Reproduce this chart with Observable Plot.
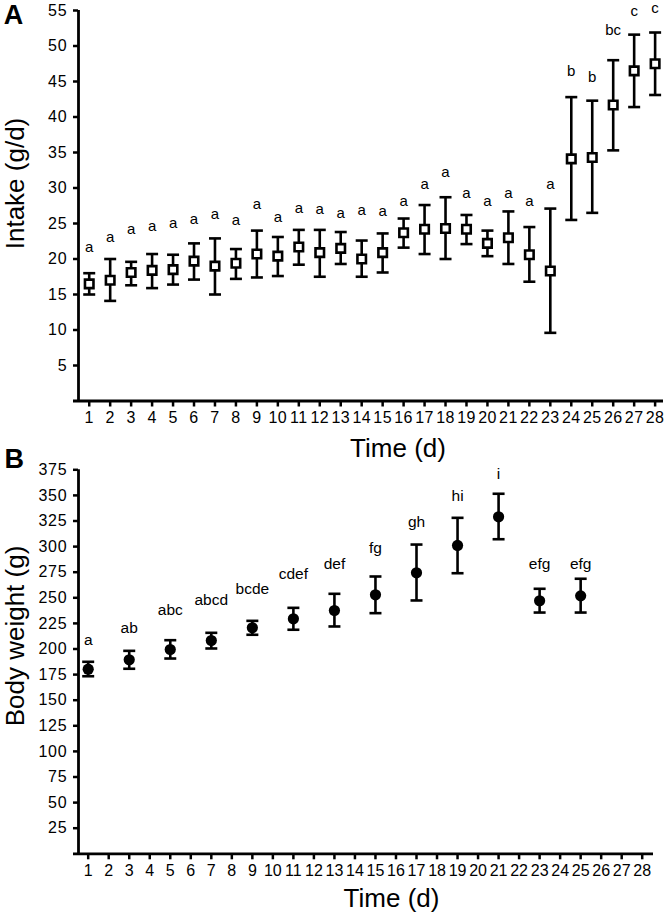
<!DOCTYPE html>
<html><head><meta charset="utf-8">
<script src="https://cdn.jsdelivr.net/npm/d3@7"></script>
<script src="https://cdn.jsdelivr.net/npm/@observablehq/plot@0.6"></script>
<style>
body{margin:0;background:#fff;width:667px;height:913px;overflow:hidden;position:relative;font-family:"Liberation Sans",Arial,sans-serif}
#a{position:absolute;left:0;top:0}
#b{position:absolute;left:0;top:440px}
g[aria-label="y-axis tick label"]{letter-spacing:0.8px}
#a g[aria-label="x-axis tick label"]{letter-spacing:0.4px}
</style></head><body><div id="a"></div><div id="b"></div>
<script>
// ---- Panel A: intake (g/d) ----
const days = [1,2,3,4,5,6,7,8,9,10,11,12,13,14,15,16,17,18,19,20,21,22,23,24,25,26,27,28];
const intakeMean = [16.5,17.0,18.1,18.4,18.5,19.7,19.0,19.4,20.7,20.4,21.7,20.9,21.5,20.0,20.9,23.7,24.2,24.3,24.2,22.2,23.0,20.6,18.3,34.1,34.3,41.7,46.5,47.5];
const intakeHigh = [18.0,20.0,19.6,20.7,20.6,22.2,22.9,21.4,24.0,23.1,24.1,24.1,23.8,22.6,23.6,25.7,27.6,28.7,26.2,24.0,26.7,24.5,27.1,42.8,42.3,48.0,51.6,51.9];
const intakeLow = [15.0,14.1,16.3,15.9,16.4,17.1,15.0,17.2,17.4,17.6,19.2,17.5,19.3,17.5,18.1,21.6,20.7,20.0,22.1,20.4,19.3,16.8,9.6,25.5,26.5,35.3,41.4,43.1];
const intakeLetters = ["a","a","a","a","a","a","a","a","a","a","a","a","a","a","a","a","a","a","a","a","a","a","a","b","b","bc","c","c"];
const intakeLetterY = [21.6,23.1,24.2,24.6,25.0,25.6,26.3,25.5,27.7,25.9,27.2,27.0,26.4,26.9,26.7,28.1,30.6,32.2,29.3,28.2,29.3,28.1,30.6,46.5,45.6,52.2,54.9,55.3];
const intakeTicks = [5,10,15,20,25,30,35,40,45,50,55];

// ---- Panel B: body weight (g) ----
const bwDays = [1,3,5,7,9,11,13,15,17,19,21,23,25];
const bwMean = [180.3,189.5,199.5,208.3,220.7,229.5,237.6,252.9,274.4,301.1,329.1,247.1,251.9];
const bwHigh = [187.5,198.2,208.6,215.8,227.5,240.2,253.9,270.8,302.0,328.1,351.6,258.8,268.6];
const bwLow = [173.4,180.7,190.7,200.5,213.9,218.8,222.0,235.0,247.4,274.0,307.2,235.6,235.6];
const bwLetters = ["a","ab","abc","abcd","bcde","cdef","def","fg","gh","hi","i","efg","efg"];
const bwLetterY = [208.3,220.7,238.3,247.4,258.8,272.8,283.2,298.8,323.8,349.2,370.4,283.2,283.2];
const bwTicks = [25,50,75,100,125,150,175,200,225,250,275,300,325,350,375];

const FONT = '"Liberation Sans", Arial, sans-serif';
const cap = {draw(context){ context.moveTo(-6,0); context.lineTo(6,0); }};
const SW = 2.6;
const TICKFS = 16;

const intake = days.map((d,i)=>({day:d, mean:intakeMean[i], lo:intakeLow[i], hi:intakeHigh[i], letter:intakeLetters[i], ly:intakeLetterY[i]}));
const bw = bwDays.map((d,i)=>({day:d, mean:bwMean[i], lo:bwLow[i], hi:bwHigh[i], letter:bwLetters[i], ly:bwLetterY[i]}));

const xDomA = [0.25, 28.4];
const plotA = Plot.plot({
  width:667, height:460, marginLeft:73, marginRight:4, marginTop:10, marginBottom:59.5,
  style:{fontFamily:FONT, background:"transparent", color:"black", overflow:"visible"},
  x:{domain:xDomA}, y:{domain:[0,55]},
  marks:[
    Plot.ruleY([0], {strokeWidth:2.8}),
    Plot.ruleX([xDomA[0]], {y1:0, y2:55, dx:5, strokeWidth:2.8}),
    Plot.axisX({ticks:days, tickSize:6, tickPadding:5, fontSize:TICKFS, strokeWidth:2.5, label:null, tickFormat:d=>String(d)}),
    Plot.axisY({ticks:intakeTicks, tickSize:5, tickPadding:6, fontSize:TICKFS, strokeWidth:2.5, label:null, dx:5, tickFormat:d=>String(d)}),
    Plot.ruleX(intake, {x:"day", y1:"lo", y2:"hi", strokeWidth:SW}),
    Plot.dot(intake, {x:"day", y:"hi", symbol:cap, stroke:"black", fill:"none", strokeWidth:SW}),
    Plot.dot(intake, {x:"day", y:"lo", symbol:cap, stroke:"black", fill:"none", strokeWidth:SW}),
    Plot.dot(intake, {x:"day", y:"mean", symbol:"square", r:4.8, fill:"white", stroke:"black", strokeWidth:SW}),
    Plot.text(intake, {x:"day", y:"ly", text:"letter", fontSize:15, fill:"black"}),
    Plot.text(["Intake (g/d)"], {frameAnchor:"left", textAnchor:"middle", lineAnchor:"middle", rotate:-90, dx:-58.3, dy:-22.25, fontSize:26, fill:"black"}),
    Plot.text(["Time (d)"], {frameAnchor:"bottom", textAnchor:"middle", lineAnchor:"middle", dx:29.5, dy:47.2, fontSize:26, fill:"black"}),
    Plot.text(["A"], {frameAnchor:"top-left", textAnchor:"start", lineAnchor:"top", dx:-69.7, dy:-6, fontSize:27, fontWeight:"bold", fill:"black"})
  ]
});
document.getElementById("a").append(plotA);

const xDomB = [0.284, 28.55];
const plotB = Plot.plot({
  width:667, height:473, marginLeft:73, marginRight:14, marginTop:29.3, marginBottom:59.7,
  style:{fontFamily:FONT, background:"transparent", color:"black", overflow:"visible"},
  x:{domain:xDomB}, y:{domain:[0,375]},
  marks:[
    Plot.ruleY([0], {strokeWidth:2.8}),
    Plot.ruleX([xDomB[0]], {y1:0, y2:375, dx:5, strokeWidth:2.8}),
    Plot.axisX({ticks:days, tickSize:6, tickPadding:5, fontSize:TICKFS, strokeWidth:2.5, label:null, tickFormat:d=>String(d)}),
    Plot.axisY({ticks:bwTicks, tickSize:5, tickPadding:6, fontSize:TICKFS, strokeWidth:2.5, label:null, dx:5, tickFormat:d=>String(d)}),
    Plot.ruleX(bw, {x:"day", y1:"lo", y2:"hi", strokeWidth:SW}),
    Plot.dot(bw, {x:"day", y:"hi", symbol:cap, stroke:"black", fill:"none", strokeWidth:SW}),
    Plot.dot(bw, {x:"day", y:"lo", symbol:cap, stroke:"black", fill:"none", strokeWidth:SW}),
    Plot.dot(bw, {x:"day", y:"mean", r:5.6, fill:"black", stroke:"none"}),
    Plot.text(bw, {x:"day", y:"ly", text:"letter", fontSize:15.5, fill:"black"}),
    Plot.text(["Body weight (g)"], {frameAnchor:"left", textAnchor:"middle", lineAnchor:"middle", rotate:-90, dx:-58.3, dy:-25.8, fontSize:26, fill:"black"}),
    Plot.text(["Time (d)"], {frameAnchor:"bottom", textAnchor:"middle", lineAnchor:"middle", dx:28, dy:45.1, fontSize:26, fill:"black"}),
    Plot.text(["B"], {frameAnchor:"top-left", textAnchor:"start", lineAnchor:"top", dx:-69, dy:-21.3, fontSize:27, fontWeight:"bold", fill:"black"})
  ]
});
document.getElementById("b").append(plotB);
</script></body></html>
